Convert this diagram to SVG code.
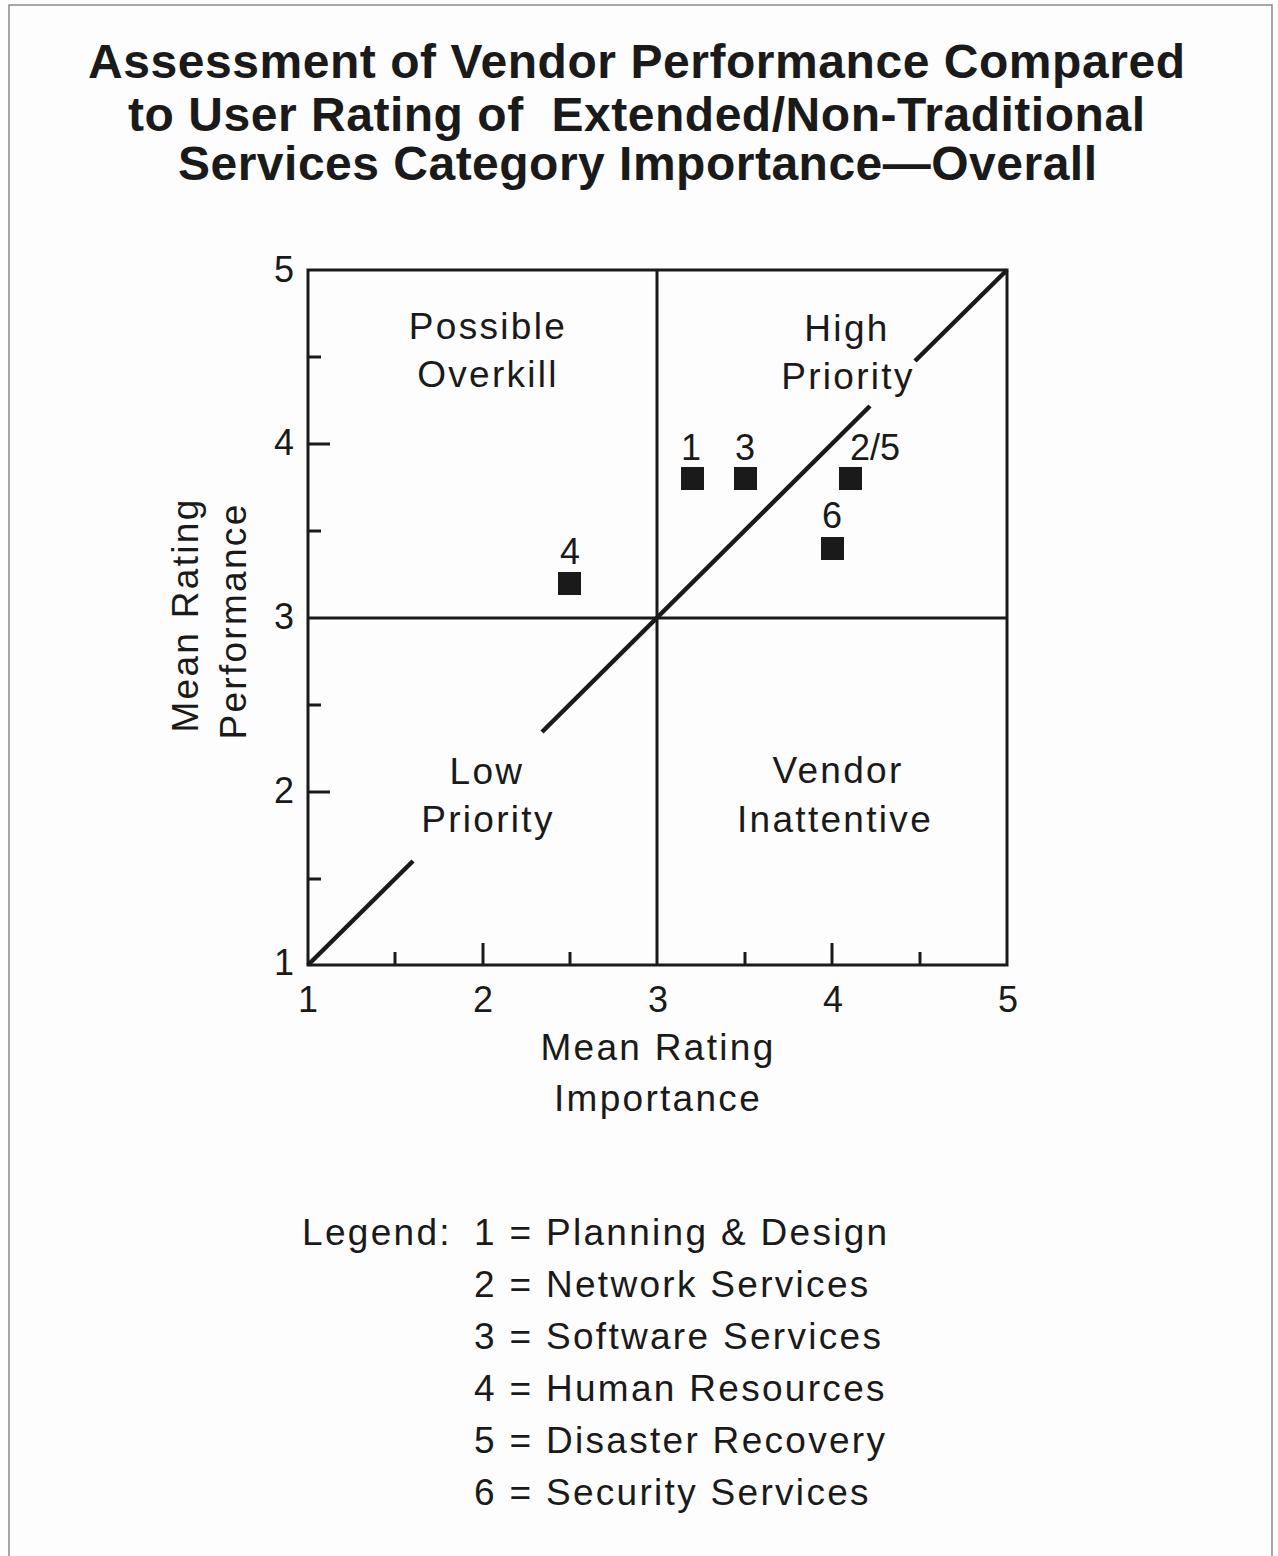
<svg xmlns="http://www.w3.org/2000/svg" width="1278" height="1556" viewBox="0 0 1278 1556">
  <style>
    text { font-family: "Liberation Sans", Arial, Helvetica, sans-serif; fill: #1a1a1a; }
    .title { font-size: 48px; font-weight: bold; text-anchor: middle; }
    .lbl { font-size: 37px; letter-spacing: 2.3px; text-anchor: middle; }
    .tick { font-size: 36px; }
    .pt { font-size: 36px; text-anchor: middle; }
    .leg { font-size: 37px; letter-spacing: 2.3px; }
    .frame { fill: none; stroke: #1a1a1a; stroke-width: 3; }
    .grid { stroke: #1a1a1a; stroke-width: 3; }
    .diag { stroke: #1a1a1a; stroke-width: 4.5; stroke-linecap: butt; }
    .mark { fill: #1a1a1a; }
  </style>

  <rect x="0" y="0" width="1278" height="1556" fill="#fdfdfd"/>
  <rect x="9" y="5" width="1263" height="1580" fill="none" stroke="#8a8a8a" stroke-width="1.5"/>

  <g id="title">
    <text class="title" x="636.5" y="78" textLength="1097" lengthAdjust="spacing">Assessment of Vendor Performance Compared</text>
    <text class="title" x="636.5" y="131" textLength="1017" lengthAdjust="spacing" xml:space="preserve">to User Rating of  Extended/Non-Traditional</text>
    <text class="title" x="637.5" y="180" textLength="919" lengthAdjust="spacing">Services Category Importance—Overall</text>
  </g>

  <g id="plot-frame">
    <rect class="frame" x="308" y="270" width="699" height="695"/>
    <line class="grid" x1="657" y1="270" x2="657" y2="965"/>
    <line class="grid" x1="308" y1="618" x2="1007" y2="618"/>
    <line class="grid" x1="308" y1="444" x2="330" y2="444"/>
    <line class="grid" x1="308" y1="792" x2="330" y2="792"/>
    <line class="grid" x1="308" y1="357" x2="321" y2="357"/>
    <line class="grid" x1="308" y1="531" x2="321" y2="531"/>
    <line class="grid" x1="308" y1="705" x2="321" y2="705"/>
    <line class="grid" x1="308" y1="879" x2="321" y2="879"/>
    <line class="grid" x1="483" y1="965" x2="483" y2="943"/>
    <line class="grid" x1="832" y1="965" x2="832" y2="943"/>
    <line class="grid" x1="395" y1="965" x2="395" y2="952"/>
    <line class="grid" x1="570" y1="965" x2="570" y2="952"/>
    <line class="grid" x1="745" y1="965" x2="745" y2="952"/>
    <line class="grid" x1="920" y1="965" x2="920" y2="952"/>
  </g>

  <g id="connectors">
    <line class="diag" x1="308" y1="965" x2="413" y2="861"/>
    <line class="diag" x1="542" y1="732" x2="870" y2="406"/>
    <line class="diag" x1="915" y1="361" x2="1007" y2="270"/>
  </g>

  <g id="axis-labels">
    <text class="tick" x="294" y="282" text-anchor="end">5</text>
    <text class="tick" x="294" y="455" text-anchor="end">4</text>
    <text class="tick" x="294" y="629" text-anchor="end">3</text>
    <text class="tick" x="294" y="803" text-anchor="end">2</text>
    <text class="tick" x="294" y="975" text-anchor="end">1</text>
    <text class="tick" x="308" y="1012" text-anchor="middle">1</text>
    <text class="tick" x="483" y="1012" text-anchor="middle">2</text>
    <text class="tick" x="658" y="1012" text-anchor="middle">3</text>
    <text class="tick" x="833" y="1012" text-anchor="middle">4</text>
    <text class="tick" x="1008" y="1012" text-anchor="middle">5</text>
    <text class="lbl" x="658" y="1060">Mean Rating</text>
    <text class="lbl" x="658" y="1111">Importance</text>
    <text class="lbl" transform="translate(198,615) rotate(-90)" x="0" y="0">Mean Rating</text>
    <text class="lbl" transform="translate(246,621) rotate(-90)" x="0" y="0">Performance</text>
  </g>

  <g id="quadrant-labels">
    <text class="lbl" x="488" y="339">Possible</text>
    <text class="lbl" x="488" y="387">Overkill</text>
    <text class="lbl" x="847" y="341">High</text>
    <text class="lbl" x="848" y="389">Priority</text>
    <text class="lbl" x="487" y="784">Low</text>
    <text class="lbl" x="488" y="832">Priority</text>
    <text class="lbl" x="838" y="783">Vendor</text>
    <text class="lbl" x="835" y="832">Inattentive</text>
  </g>

  <g id="point-1">
    <rect class="mark" x="681" y="467" width="23" height="23"/>
    <text class="pt" x="691" y="460">1</text>
  </g>
  <g id="point-3">
    <rect class="mark" x="734" y="467" width="23" height="23"/>
    <text class="pt" x="745" y="460">3</text>
  </g>
  <g id="point-2-5">
    <rect class="mark" x="839" y="467" width="23" height="23"/>
    <text class="pt" x="875" y="460">2/5</text>
  </g>
  <g id="point-6">
    <rect class="mark" x="821" y="537" width="23" height="23"/>
    <text class="pt" x="832" y="528">6</text>
  </g>
  <g id="point-4">
    <rect class="mark" x="558" y="572" width="23" height="23"/>
    <text class="pt" x="570" y="564">4</text>
  </g>

  <g id="legend">
    <text class="leg" x="302" y="1245">Legend:</text>
    <text class="leg" x="474" y="1245">1 = Planning &amp; Design</text>
    <text class="leg" x="474" y="1297">2 = Network Services</text>
    <text class="leg" x="474" y="1349">3 = Software Services</text>
    <text class="leg" x="474" y="1401">4 = Human Resources</text>
    <text class="leg" x="474" y="1453">5 = Disaster Recovery</text>
    <text class="leg" x="474" y="1505">6 = Security Services</text>
  </g>
</svg>
